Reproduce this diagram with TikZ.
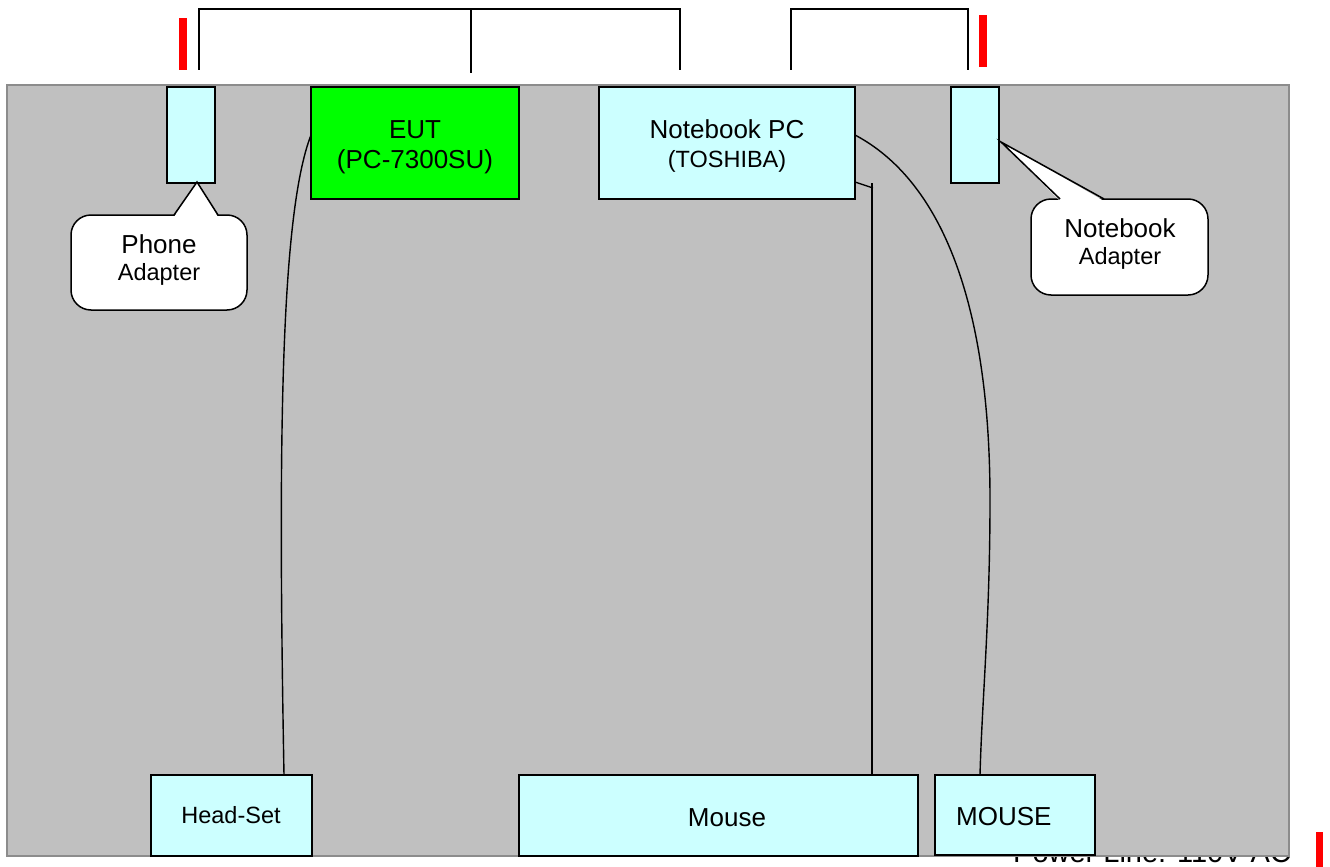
\documentclass[tikz,border=0pt]{standalone}
\usepackage{fontspec}
\setmainfont{Liberation Sans}
\newcommand\fbig{\fontsize{26}{30}\selectfont}
\newcommand\fsmall{\fontsize{23.5}{28}\selectfont}
\newcommand\fpower{\fontsize{29}{34}\selectfont}
\definecolor{boxcyan}{HTML}{CCFFFF}
\definecolor{eutgreen}{HTML}{00FF00}
\definecolor{bggray}{HTML}{C0C0C0}
\definecolor{bgedge}{HTML}{8C8C8C}
\begin{document}
\begin{tikzpicture}[x=1pt,y=-1pt,
  box/.style={draw=black,line width=1.5pt,fill=boxcyan,anchor=north west,inner sep=0pt,outer sep=0pt},
  lbl/.style={inner sep=0pt,anchor=base,text=black},
  wire/.style={draw=black,line width=1.4pt},
  redbar/.style={fill=red,draw=none},
  callbody/.style={draw=black,line width=1.5pt,fill=white,rounded corners=20pt,anchor=north west,inner sep=0pt,outer sep=0pt}]
\useasboundingbox (0,0) rectangle (1330,867);
\fill[white] (0,0) rectangle (1330,867);
% power line text (partly covered by the table)
\node[lbl,anchor=base west] (power) at (1013,862) {\fpower Power Line: 110V AC};
% table
\node[draw=bgedge,line width=1.5pt,fill=bggray,anchor=north west,minimum width=1282pt,minimum height=771pt,inner sep=0pt,outer sep=0pt] (table) at (7,85) {};
% red power marks
\fill[redbar] (179,18) rectangle (187,70);
\fill[redbar] (979,15) rectangle (987,67);
\fill[redbar] (1316,832) rectangle (1323,867);
% brackets
\coordinate (b1a) at (199,70); \coordinate (b1b) at (471,73); \coordinate (b1c) at (680,70);
\coordinate (b2a) at (791,70); \coordinate (b2b) at (968,70);
\draw[wire] (b1a) -- (199,9) -- (680,9) -- (b1c);
\draw[wire] (471,9) -- (b1b);
\draw[wire] (b2a) -- (791,9) -- (968,9) -- (b2b);
% boxes
\node[box,minimum width=48pt,minimum height=96pt] (phad) at (167,87) {};
\node[box,fill=eutgreen,minimum width=208pt,minimum height=112pt] (eut) at (311,87) {};
\node[box,minimum width=256pt,minimum height=112pt] (nb) at (599,87) {};
\node[box,minimum width=48pt,minimum height=96pt] (nbad) at (951,87) {};
\node[box,minimum width=161pt,minimum height=81pt] (head) at (151,775) {};
\node[box,minimum width=399pt,minimum height=81pt] (mouse) at (519,775) {};
\node[box,minimum width=160pt,minimum height=80pt] (mouse2) at (935,775) {};
% box texts
\node[lbl] (eutt1) at (415,138) {\fbig EUT};
\node[lbl] (eutt2) at (415,168) {\fbig (PC-7300SU)};
\node[lbl] (nbt1) at (727,138) {\fbig Notebook PC};
\node[lbl] (nbt2) at (727,167) {\fsmall (TOSHIBA)};
\node[lbl] (headt) at (231,823) {\fsmall Head-Set};
\node[lbl] (mouset) at (727,826) {\fbig Mouse};
\node[lbl,anchor=base west] (mouse2t) at (956,825) {\fbig MOUSE};
% callouts
\node[callbody,minimum width=176pt,minimum height=95pt] (phcall) at (71,215) {};
\fill[white] (174,217) -- (197,182) -- (218,217) -- cycle;
\draw[wire,line width=1.5pt,line join=miter] (174,215) -- (197,182) -- (218,215);
\node[lbl] (pht1) at (159,253) {\fbig Phone};
\node[lbl] (pht2) at (159,280) {\fsmall Adapter};
\node[callbody,minimum width=177pt,minimum height=96pt] (nbcall) at (1031,199) {};
\fill[white] (1060,201) -- (1001,142) -- (1104,201) -- cycle;
\draw[wire,line width=1.5pt,line join=miter] (1060,199) -- (1001,142) -- (1104,199);
\node[lbl] (nbct1) at (1120,237) {\fbig Notebook};
\node[lbl] (nbct2) at (1120,264) {\fsmall Adapter};
% cables
\draw[wire] (head.north -| 284,0) .. controls (278,450) and (280,215) .. (eut.west |- 0,135);
\coordinate (nbm) at (873,188);
\draw[wire] (nb.east |- 0,182) -- (nbm);
\draw[wire] (872,183) -- (mouse.north -| 872,0);
\draw[wire] (nb.east |- 0,135) .. controls (940,180) and (990,300) .. (990,500)
  .. controls (990,620) and (982,700) .. (mouse2.north -| 980,0);
\end{tikzpicture}
\end{document}
